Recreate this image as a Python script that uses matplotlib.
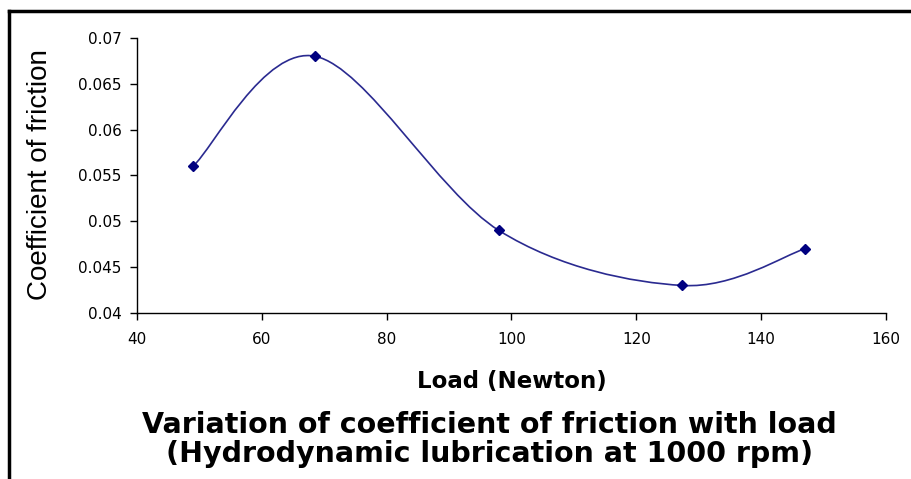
import matplotlib.pyplot as plt
import numpy as np
from matplotlib.path import Path
from matplotlib.patches import PathPatch
from matplotlib.lines import Line2D

plt.rcParams['font.family'] = ['DejaVu Sans']

# data
load = [49, 68.6, 98, 127.4, 147]
friction = [0.056, 0.068, 0.049, 0.043, 0.047]
x_ticks = [40, 60, 80, 100, 120, 140, 160]
y_ticks = [0.04, 0.045, 0.05, 0.055, 0.06, 0.065, 0.07]
y_labels = ['0.04', '0.045', '0.05', '0.055', '0.06', '0.065', '0.07']


def smooth_path(xs, ys, tension=1 / 6):
    # Excel style smoothed line: cubic bezier through the points
    pts = np.column_stack([xs, ys])
    n = len(pts)
    verts = [pts[0]]
    codes = [Path.MOVETO]
    for i in range(n - 1):
        p0 = pts[max(i - 1, 0)]
        p1 = pts[i]
        p2 = pts[i + 1]
        p3 = pts[min(i + 2, n - 1)]
        c1 = p1 + (p2 - p0) * tension
        c2 = p2 - (p3 - p1) * tension
        verts += [c1, c2, p2]
        codes += [Path.CURVE4] * 3
    return Path(verts, codes)


fig = plt.figure(figsize=(9.12, 4.79), dpi=100)
ax = fig.add_axes([0.150, 0.3466, 0.8215, 0.5741])

ax.add_patch(PathPatch(smooth_path(load, friction), facecolor='none',
                       edgecolor='#2a2a90', lw=1.2))
ax.plot(load, friction, 'D', color='#000080', ms=5.5, ls='none')

ax.set_xlim(40, 160)
ax.set_ylim(0.04, 0.07)
ax.set_xticks(x_ticks)
ax.set_yticks(y_ticks)
ax.set_yticklabels(y_labels)
ax.tick_params(labelsize=11, length=5, width=1, direction='out')
ax.tick_params(axis='x', pad=9)
ax.tick_params(axis='y', pad=6)
for s in ['top', 'right']:
    ax.spines[s].set_visible(False)
for s in ['left', 'bottom']:
    ax.spines[s].set_linewidth(1)

fig.text(0.044, 0.635, 'Coefficient of friction', rotation=90,
         ha='center', va='center', fontsize=20, family='Liberation Sans')
fig.text(0.561, 0.19, 'Load (Newton)', ha='center', va='baseline',
         fontsize=16.5, fontweight='bold')
fig.text(0.537, 0.096, 'Variation of coefficient of friction with load',
         ha='center', va='baseline', fontsize=20.5, fontweight='bold')
fig.text(0.537, 0.036, '(Hydrodynamic lubrication at 1000 rpm)',
         ha='center', va='baseline', fontsize=20.5, fontweight='bold')

# frame around the chart
fig.add_artist(Line2D([0.0095, 0.0095], [0, 0.977], color='black', lw=2.5))
fig.add_artist(Line2D([0.0095, 1], [0.977, 0.977], color='black', lw=2.5))

fig.savefig('out.png', dpi=100)
